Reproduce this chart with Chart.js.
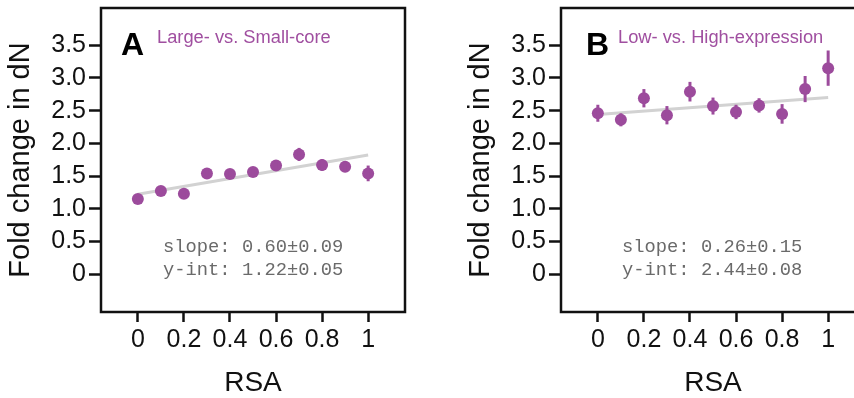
<!DOCTYPE html>
<html>
<head>
<meta charset="utf-8">
<script src="https://cdn.jsdelivr.net/npm/chart.js@4.4.1/dist/chart.umd.min.js"></script>
<style>
  html, body { margin: 0; padding: 0; background: #fff; overflow: hidden; }
  body { width: 854px; height: 398px; position: relative; }
  .panel { position: absolute; top: 0; width: 427px; height: 398px; }
  #panelA { left: 0; }
  #panelB { left: 460px; }
</style>
</head>
<body>
<div class="panel" id="panelA"><canvas id="chartA" width="427" height="398"></canvas></div>
<div class="panel" id="panelB"><canvas id="chartB" width="427" height="398"></canvas></div>

<script>
// ---- data ----
const rsa = [0, 0.1, 0.2, 0.3, 0.4, 0.5, 0.6, 0.7, 0.8, 0.9, 1.0];

// A: Large- vs. Small-core
const foldA = [1.15, 1.27, 1.23, 1.54, 1.53, 1.56, 1.66, 1.83, 1.67, 1.64, 1.54];
const errA  = [0.04, 0.04, 0.04, 0.05, 0.04, 0.04, 0.06, 0.10, 0.09, 0.08, 0.12];
const fitA  = [1.22, 1.82];   // fit line at RSA 0 and 1

// B: Low- vs. High-expression
const foldB = [2.46, 2.36, 2.69, 2.43, 2.79, 2.57, 2.48, 2.58, 2.45, 2.83, 3.15];
const errB  = [0.13, 0.10, 0.14, 0.14, 0.15, 0.13, 0.11, 0.11, 0.15, 0.20, 0.27];
const fitB  = [2.44, 2.70];

const fitX = [0, 1];

const xTickValues = [0, 0.2, 0.4, 0.6, 0.8, 1];
const xTickLabels = ['0', '0.2', '0.4', '0.6', '0.8', '1'];
const yTickValues = [0, 0.5, 1, 1.5, 2, 2.5, 3, 3.5];
const yTickLabels = ['0', '0.5', '1.0', '1.5', '2.0', '2.5', '3.0', '3.5'];

const PURPLE = '#9c4b9c';
const INK = '#111111';
const SANS = '"Liberation Sans", Arial, sans-serif';

// error bars, drawn through the chart scales
const errorBars = {
    id: 'errorBars',
    afterDatasetsDraw(chart, args, opts) {
        const { ctx, scales: { x, y } } = chart;
        ctx.save();
        ctx.strokeStyle = PURPLE;
        ctx.lineWidth = 3;
        opts.values.forEach((v, i) => {
            const px = x.getPixelForValue(rsa[i]);
            ctx.beginPath();
            ctx.moveTo(px, y.getPixelForValue(v - opts.errors[i]));
            ctx.lineTo(px, y.getPixelForValue(v + opts.errors[i]));
            ctx.stroke();
        });
        ctx.restore();
    }
};

// box frame + in-panel labels
const frameAndText = {
    id: 'frameAndText',
    afterDraw(chart, args, opts) {
        const { ctx, chartArea: a } = chart;
        ctx.save();
        ctx.strokeStyle = INK;
        ctx.lineWidth = 2.5;
        ctx.strokeRect(a.left, a.top, a.right - a.left, a.bottom - a.top);

        ctx.textBaseline = 'alphabetic';
        ctx.textAlign = 'left';
        ctx.fillStyle = '#000';
        ctx.font = 'bold 32px ' + SANS;
        ctx.fillText(opts.letter, a.left + opts.letterDx, 55);

        ctx.fillStyle = '#a04fa0';
        ctx.font = '18.3px ' + SANS;
        ctx.fillText(opts.subtitle, a.left + opts.subDx, 43);

        ctx.fillStyle = '#6a6a6a';
        ctx.font = '18.8px "Liberation Mono", "Courier New", monospace';
        ctx.fillText(opts.stats[0], a.left + opts.statsDx, 252);
        ctx.fillText(opts.stats[1], a.left + opts.statsDx, 275);
        ctx.restore();
    }
};

function makePanel(canvasId, fold, err, fit, texts) {
    const ctx = document.getElementById(canvasId).getContext('2d');
    return new Chart(ctx, {
        data: {
            datasets: [
                {
                    type: 'line',
                    order: 2,   // drawn first, under the points
                    data: fitX.map((x, i) => ({ x: x, y: fit[i] })),
                    borderColor: '#d2d2d2',
                    borderWidth: 3,
                    pointRadius: 0,
                    fill: false,
                },
                {
                    type: 'scatter',
                    order: 1,
                    data: rsa.map((x, i) => ({ x: x, y: fold[i] })),
                    backgroundColor: PURPLE,
                    borderWidth: 0,
                    pointRadius: 6,
                },
            ]
        },
        options: {
            responsive: false,
            animation: false,
            devicePixelRatio: 1,
            layout: { padding: { top: 8, right: 22, left: 0, bottom: 0 } },
            plugins: {
                legend: { display: false },
                tooltip: { enabled: false },
                errorBars: { values: fold, errors: err },
                frameAndText: texts,
            },
            scales: {
                x: {
                    type: 'linear',
                    min: -0.16, max: 1.16,
                    offset: false,
                    afterBuildTicks: (s) => { s.ticks = xTickValues.map(v => ({ value: v })); },
                    afterFit: (s) => { s.height = 86; s.paddingLeft = 0; s.paddingRight = 0; },
                    border: { display: false },
                    grid: { drawOnChartArea: false, drawTicks: true, tickLength: 10, tickWidth: 2.5, tickColor: INK },
                    ticks: {
                        color: INK,
                        padding: 3,
                        maxRotation: 0,
                        autoSkip: false,
                        font: { family: SANS, size: 25 },
                        callback: (v, i) => xTickLabels[i],
                    },
                    title: {
                        display: true,
                        text: 'RSA',
                        color: INK,
                        padding: { top: 0, bottom: -2 },
                        font: { family: SANS, size: 28, lineHeight: 1.2 },
                    },
                },
                y: {
                    type: 'linear',
                    min: -0.58, max: 4.07,
                    afterBuildTicks: (s) => { s.ticks = yTickValues.map(v => ({ value: v })); },
                    afterFit: (s) => { s.width = 101; s.paddingTop = 0; s.paddingBottom = 0; },
                    border: { display: false },
                    grid: { drawOnChartArea: false, drawTicks: true, tickLength: 12, tickWidth: 2.5, tickColor: INK },
                    ticks: {
                        color: INK,
                        padding: 3,
                        autoSkip: false,
                        font: { family: SANS, size: 25 },
                        callback: (v, i) => yTickLabels[i],
                    },
                    title: {
                        display: true,
                        text: 'Fold change in dN',
                        color: INK,
                        padding: { top: 4, bottom: 0 },
                        font: { family: SANS, size: 29, lineHeight: 1.2 },
                    },
                },
            },
        },
        plugins: [errorBars, frameAndText],
    });
}

makePanel('chartA', foldA, errA, fitA, {
    letter: 'A', letterDx: 20, subtitle: 'Large- vs. Small-core', subDx: 56,
    statsDx: 62, stats: ['slope: 0.60\u00b10.09', 'y-int: 1.22\u00b10.05'],
});
makePanel('chartB', foldB, errB, fitB, {
    letter: 'B', letterDx: 25, subtitle: 'Low- vs. High-expression', subDx: 57,
    statsDx: 61, stats: ['slope: 0.26\u00b10.15', 'y-int: 2.44\u00b10.08'],
});
</script>
</body>
</html>
